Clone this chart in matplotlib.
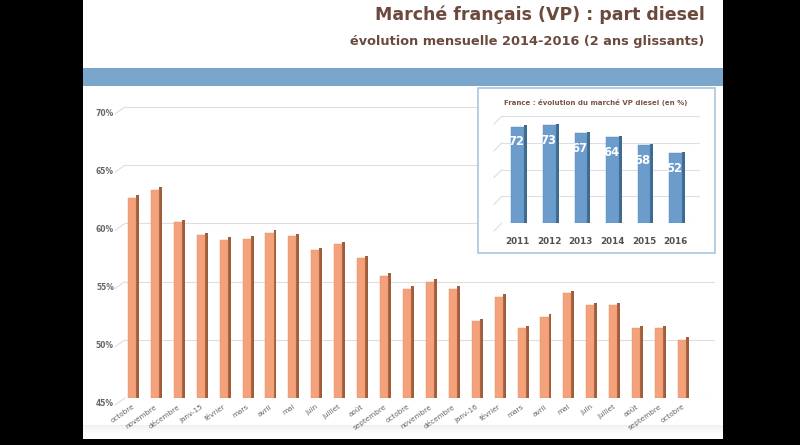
import numpy as np
import matplotlib
matplotlib.use("Agg")
import matplotlib.pyplot as plt
from matplotlib.patches import Rectangle
from matplotlib.transforms import ScaledTranslation

# --- data ---
months = ["octobre", "novembre", "décembre", "janv-15", "février", "mars", "avril",
          "mai", "juin", "juillet", "août", "septembre", "octobre", "novembre",
          "décembre", "janv-16", "février", "mars", "avril", "mai", "juin",
          "juillet", "août", "septembre", "octobre"]
share = [62.2, 62.9, 60.1, 59.0, 58.6, 58.7, 59.2, 58.9, 57.7, 58.2, 57.0, 55.5,
         54.4, 55.0, 54.4, 51.6, 53.7, 51.0, 52.0, 54.0, 53.0, 53.0, 51.0, 51.0, 50.0]
yticks = [45, 50, 55, 60, 65, 70]

years = ["2011", "2012", "2013", "2014", "2015", "2016"]
diesel_year = [72, 73, 67, 64, 58, 52]
inset_grid = [0, 20, 40, 60, 80]

plt.rcParams['font.family'] = ['DejaVu Sans']

W, H = 800, 445
fig = plt.figure(figsize=(8, 4.45), dpi=100, facecolor='black')
fx = lambda px: px / W
fy = lambda py: 1 - py / H

# slide background + bottom shading
fig.patches.append(Rectangle((fx(83), fy(439)), fx(723) - fx(83), fy(0) - fy(439),
                             transform=fig.transFigure, facecolor='white', zorder=-3))
gax = fig.add_axes([fx(83), fy(439), fx(723) - fx(83), 14 / H], zorder=-2)
grad = np.linspace(1, 0, 50).reshape(-1, 1) ** 2
gax.imshow(grad, aspect='auto', cmap='Greys', vmin=0, vmax=7, extent=[0, 1, 0, 1])
gax.axis('off')

# blue band
fig.patches.append(Rectangle((fx(83), fy(86)), fx(723) - fx(83), 18 / H,
                             transform=fig.transFigure, facecolor='#79a6ca', zorder=1))

brown = '#6b4a3d'
fig.text(fx(705), fy(20), "Marché français (VP) : part diesel", ha='right', va='baseline',
         fontsize=12.5, fontweight='bold', color=brown)
fig.text(fx(704), fy(45), "évolution mensuelle 2014-2016 (2 ans glissants)", ha='right',
         va='baseline', fontsize=9.3, fontweight='bold', color=brown)

# --- main chart ---
ax = fig.add_axes([fx(125), fy(398), fx(715) - fx(125), (398 - 107) / H], zorder=2)
ax.set_facecolor('none')
x = np.arange(len(share))
v = np.array(share)
w, sw = 0.35, 0.13
ax.bar(x + w / 2 + sw / 2, v - 45 + 0.2, bottom=45, width=sw, color='#9e5e3c', zorder=2)
ax.bar(x, v - 45, bottom=45, width=w, color='#f4a27b', edgecolor='#e68d63', lw=0.3, zorder=3)
ax.set_xlim(-0.305, 25.44)
ax.set_ylim(45, 70)
ax.set_yticks(yticks)
ax.set_yticklabels([f"{t}%" for t in yticks])
ax.tick_params(axis='y', length=0, pad=8, labelsize=5.5, labelcolor='#666666')
for lab in ax.get_yticklabels():
    lab.set_fontweight('bold')
    lab.set_transform(lab.get_transform() + ScaledTranslation(0, -0.05, fig.dpi_scale_trans))
ax.set_xticks(x)
ax.set_xticklabels(months, rotation=35, ha='right', va='top', rotation_mode='anchor',
                   fontsize=5.2, color='#666666')
ax.tick_params(axis='x', length=0, pad=4)
ax.grid(axis='y', color='#dedede', lw=0.8)
ax.set_axisbelow(True)
for s in ax.spines.values():
    s.set_visible(False)
for t in yticks:
    ax.annotate('', xy=(0, t), xycoords=('axes fraction', 'data'), xytext=(-7.2, -5),
                textcoords='offset points', annotation_clip=False,
                arrowprops=dict(arrowstyle='-', color='#dedede', lw=0.8, shrinkA=0, shrinkB=0))

# --- inset ---
fig.patches.append(Rectangle((fx(478), fy(253)), fx(715) - fx(478), (253 - 88) / H,
                             transform=fig.transFigure, facecolor='white',
                             edgecolor='#a9c6de', lw=1.2, zorder=4))
fig.text(fx(596), fy(103), "France : évolution du marché VP diesel (en %)", ha='center',
         va='center', fontsize=5, fontweight='bold', color='#7b5443', zorder=6)
ax2 = fig.add_axes([fx(502), fy(223), (700 - 502) / W, (223 - 116) / H], zorder=5)
ax2.set_facecolor('none')
xi = np.arange(len(years))
bw, bs = 0.4, 0.1
ax2.bar(xi + bw / 2 + bs / 2, np.array(diesel_year) + 1.2, width=bs, color='#3f6a8f', zorder=2)
ax2.bar(xi, diesel_year, width=bw, color='#6b9ccb', edgecolor='#5a8aba', lw=0.3, zorder=3)
for i, d in enumerate(diesel_year):
    ax2.annotate(str(d), (i, d), xytext=(-1, -11), textcoords='offset points', ha='center',
                 va='center', color='white', fontsize=8.3, fontweight='bold', zorder=4)
ax2.set_xlim(-0.5, 5.78)
ax2.set_ylim(0, 80)
ax2.set_yticks(inset_grid)
ax2.set_yticklabels([])
ax2.tick_params(axis='y', length=0)
ax2.set_xticks(xi)
ax2.set_xticklabels(years, fontsize=6.3, fontweight='bold', color='#505050')
ax2.tick_params(axis='x', length=0, pad=10)
ax2.grid(axis='y', color='#dcdfe3', lw=0.8)
ax2.set_axisbelow(True)
for s in ax2.spines.values():
    s.set_visible(False)
for t in inset_grid:
    ax2.annotate('', xy=(0, t), xycoords=('axes fraction', 'data'), xytext=(-6, -6),
                 textcoords='offset points', annotation_clip=False,
                 arrowprops=dict(arrowstyle='-', color='#dcdfe3', lw=0.8, shrinkA=0, shrinkB=0))

fig.savefig('out.png', dpi=100, facecolor='black')
